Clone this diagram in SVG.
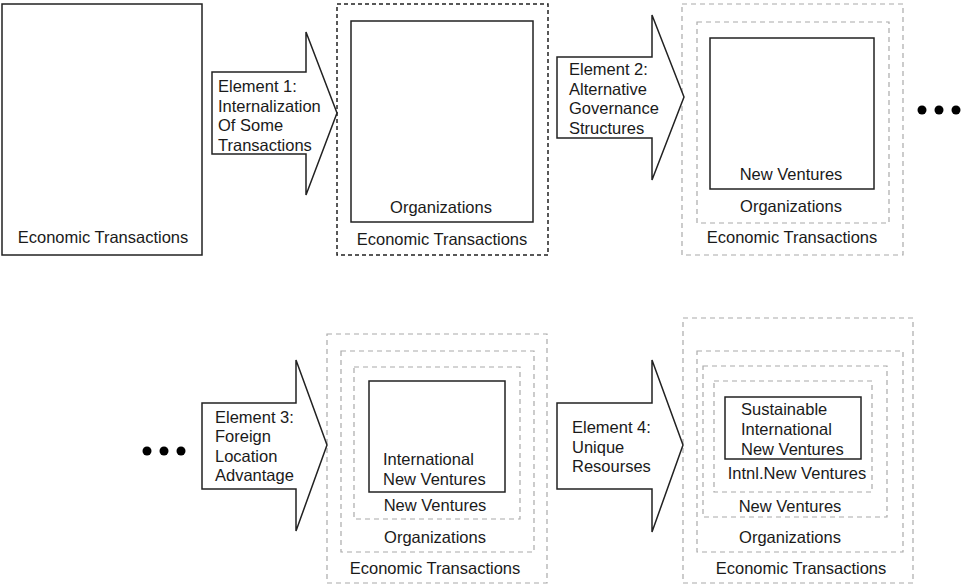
<svg xmlns="http://www.w3.org/2000/svg" width="965" height="585" viewBox="0 0 965 585">
<style>
text{font-family:"Liberation Sans",Arial,sans-serif;font-size:16.5px;fill:#1a1a1a}
.c{text-anchor:middle}
.solid{fill:none;stroke:#222;stroke-width:1.5}
.bdash{fill:none;stroke:#222;stroke-width:1.5;stroke-dasharray:4 3}
.gdash{fill:none;stroke:#aaa;stroke-width:1.2;stroke-dasharray:5 4}
.arrow{fill:#fff;stroke:#222;stroke-width:1.5;stroke-linejoin:miter}
.dot{fill:#000}
</style>
<rect width="965" height="585" fill="#fff"/>
<g id="box1">
<rect class="solid" x="2" y="4" width="200" height="251"/>
<text class="c" x="103" y="243">Economic Transactions</text>
</g>
<g id="box2">
<rect class="bdash" x="337" y="4" width="211" height="251"/>
<rect class="solid" x="351" y="21" width="182" height="201"/>
<text class="c" x="441" y="213">Organizations</text>
<text class="c" x="442" y="245">Economic Transactions</text>
</g>
<g id="box3">
<rect class="gdash" x="682" y="4" width="221" height="251"/>
<rect class="gdash" x="697" y="22" width="192" height="201"/>
<rect class="solid" x="710" y="38" width="164" height="151"/>
<text class="c" x="791" y="180">New Ventures</text>
<text class="c" x="791" y="212">Organizations</text>
<text class="c" x="792" y="243">Economic Transactions</text>
</g>
<g id="dots1">
<circle class="dot" cx="922" cy="110" r="4.5"/>
<circle class="dot" cx="939" cy="110" r="4.5"/>
<circle class="dot" cx="956" cy="110" r="4.5"/>
</g>
<g id="dots2">
<circle class="dot" cx="147" cy="451" r="4.5"/>
<circle class="dot" cx="164" cy="451" r="4.5"/>
<circle class="dot" cx="181" cy="451" r="4.5"/>
</g>
<g id="box4">
<rect class="gdash" x="327" y="334" width="220" height="249"/>
<rect class="gdash" x="341" y="351" width="193" height="201"/>
<rect class="gdash" x="354" y="367" width="166" height="152"/>
<rect class="solid" x="369" y="381" width="136" height="111"/>
<text x="383" y="465">International</text>
<text x="383" y="484.5">New Ventures</text>
<text class="c" x="435" y="511">New Ventures</text>
<text class="c" x="435" y="543">Organizations</text>
<text class="c" x="435" y="574">Economic Transactions</text>
</g>
<g id="box5">
<rect class="gdash" x="683" y="318" width="230" height="265"/>
<rect class="gdash" x="697" y="351" width="206" height="201"/>
<rect class="gdash" x="703" y="366" width="184" height="151"/>
<rect class="gdash" x="714" y="381" width="158" height="111"/>
<rect class="solid" x="725" y="397" width="136" height="62"/>
<text x="741" y="415">Sustainable</text>
<text x="741" y="435">International</text>
<text x="741" y="454.5">New Ventures</text>
<text class="c" x="797" y="479">Intnl.New Ventures</text>
<text class="c" x="790" y="512">New Ventures</text>
<text class="c" x="790" y="543">Organizations</text>
<text class="c" x="801" y="574">Economic Transactions</text>
</g>
<g id="connectors">
<g id="arrow1">
<polygon class="arrow" points="212,72 306,72 306,32 337,113 306,195 306,154 212,154"/>
<text x="218" y="92">Element 1:</text>
<text x="218" y="111.5">Internalization</text>
<text x="218" y="131">Of Some</text>
<text x="218" y="150.5">Transactions</text>
</g>
<g id="arrow2">
<polygon class="arrow" points="557,57 652,57 652,15 684,97 652,180 652,138 557,138"/>
<text x="569" y="75">Element 2:</text>
<text x="569" y="94.5">Alternative</text>
<text x="569" y="114">Governance</text>
<text x="569" y="133.5">Structures</text>
</g>
<g id="arrow3">
<polygon class="arrow" points="202,403 296,403 296,360 327,445 296,531 296,489 202,489"/>
<text x="215" y="422.5">Element 3:</text>
<text x="215" y="442">Foreign</text>
<text x="215" y="461.5">Location</text>
<text x="215" y="481">Advantage</text>
</g>
<g id="arrow4">
<polygon class="arrow" points="557,403 652,403 652,360 683,445 652,532 652,489 557,489"/>
<text x="572" y="433">Element 4:</text>
<text x="572" y="452.5">Unique</text>
<text x="572" y="472">Resourses</text>
</g>
</g>
</svg>
